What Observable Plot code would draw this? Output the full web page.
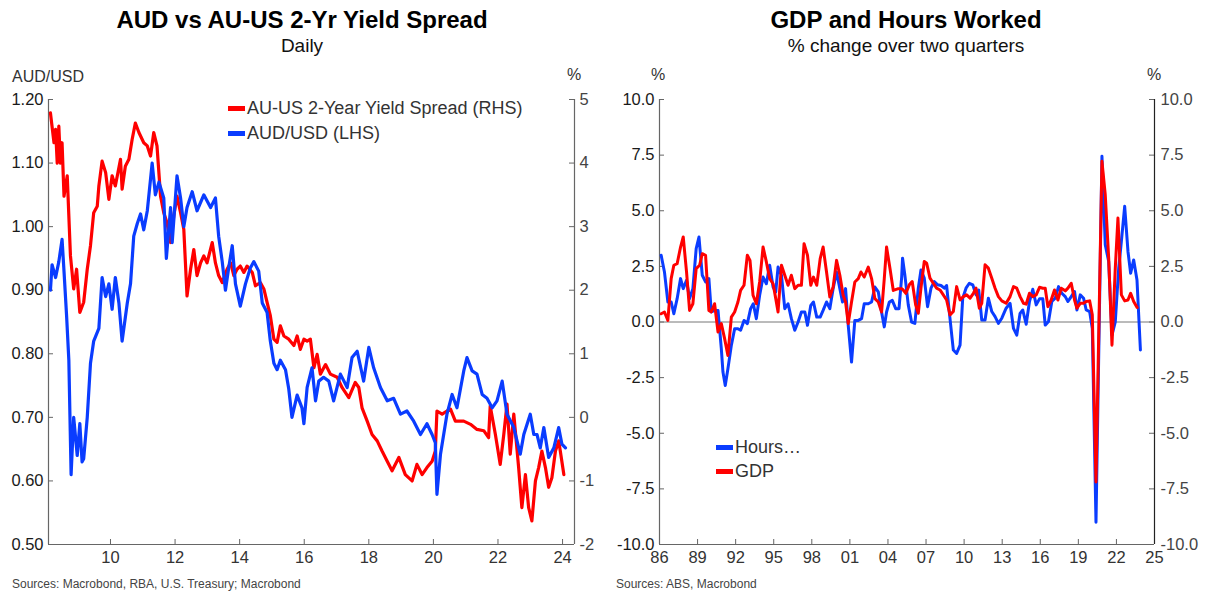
<!DOCTYPE html>
<html><head><meta charset="utf-8">
<script src="https://cdn.jsdelivr.net/npm/d3@7"></script>
<script src="https://cdn.jsdelivr.net/npm/@observablehq/plot@0.6"></script>
<style>
body{margin:0;width:1208px;height:591px;position:relative;background:#fff;font-family:"Liberation Sans",Arial,sans-serif;overflow:hidden}
.t{position:absolute;white-space:nowrap}
.title{font-weight:bold;font-size:24px;line-height:28px;top:6px;width:604px;text-align:center;color:#000}
.sub{font-size:19px;line-height:22px;top:35px;width:604px;text-align:center;color:#111}
.unit{font-size:16px;line-height:18px;color:#333}
.leg{font-size:18px;line-height:22px;color:#333}
.sw{position:absolute;width:17px;height:5px}
.src{font-size:12px;line-height:14px;top:577px;color:#444}
</style></head><body>
<div class="t title" style="left:0">AUD vs AU-US 2-Yr Yield Spread</div>
<div class="t sub" style="left:0">Daily</div>
<div class="t title" style="left:604px">GDP and Hours Worked</div>
<div class="t sub" style="left:604px">% change over two quarters</div>
<div class="t unit" style="left:12px;top:68px">AUD/USD</div>
<div class="t unit" style="left:567px;top:66px">%</div>
<div class="t unit" style="left:651px;top:66px">%</div>
<div class="t unit" style="left:1147px;top:66px">%</div>
<div id="left" style="position:absolute;left:0;top:60px"></div>
<div id="right" style="position:absolute;left:604px;top:60px"></div>
<div class="sw" style="left:228px;top:105.5px;background:#ff0000"></div>
<div class="t leg" style="left:247px;top:97px">AU-US 2-Year Yield Spread (RHS)</div>
<div class="sw" style="left:228px;top:130.5px;background:#0a3cff"></div>
<div class="t leg" style="left:247px;top:122px">AUD/USD (LHS)</div>
<div class="sw" style="left:716px;top:444.5px;background:#0a3cff"></div>
<div class="t leg" style="left:735px;top:436px">Hours…</div>
<div class="sw" style="left:716px;top:468.5px;background:#ff0000"></div>
<div class="t leg" style="left:735px;top:460px">GDP</div>
<div class="t src" style="left:12px">Sources: Macrobond, RBA, U.S. Treasury; Macrobond</div>
<div class="t src" style="left:616px">Sources: ABS, Macrobond</div>
<script>
// ---- Left chart data (year fraction, value) ----
const audUsd = [
[2008.14,0.90],[2008.19,0.94],[2008.30,0.92],[2008.40,0.945],[2008.50,0.98],[2008.56,0.93],[2008.64,0.86],[2008.71,0.79],[2008.78,0.61],[2008.86,0.70],[2008.97,0.64],[2009.05,0.69],[2009.12,0.63],[2009.17,0.635],[2009.28,0.70],[2009.38,0.785],[2009.48,0.82],[2009.64,0.84],[2009.74,0.92],[2009.85,0.89],[2009.95,0.91],[2010.05,0.87],[2010.15,0.92],[2010.26,0.88],[2010.36,0.82],[2010.52,0.88],[2010.62,0.91],[2010.72,0.985],[2010.83,1.005],[2010.93,1.02],[2011.03,0.995],[2011.14,1.025],[2011.29,1.10],[2011.39,1.05],[2011.50,1.07],[2011.65,1.045],[2011.73,0.95],[2011.86,1.03],[2011.91,0.975],[2012.06,1.08],[2012.17,1.045],[2012.27,1.00],[2012.37,1.03],[2012.53,1.055],[2012.68,1.025],[2012.89,1.05],[2013.10,1.03],[2013.25,1.045],[2013.35,0.985],[2013.46,0.945],[2013.56,0.90],[2013.66,0.935],[2013.77,0.97],[2013.87,0.91],[2014.02,0.875],[2014.18,0.91],[2014.33,0.935],[2014.44,0.945],[2014.59,0.93],[2014.70,0.88],[2014.85,0.865],[2014.95,0.82],[2015.06,0.785],[2015.16,0.775],[2015.26,0.79],[2015.42,0.775],[2015.52,0.745],[2015.62,0.70],[2015.78,0.735],[2015.93,0.715],[2015.99,0.69],[2016.09,0.747],[2016.24,0.778],[2016.35,0.726],[2016.45,0.757],[2016.60,0.763],[2016.76,0.757],[2016.91,0.726],[2017.12,0.768],[2017.33,0.747],[2017.48,0.794],[2017.64,0.804],[2017.84,0.757],[2018.00,0.81],[2018.15,0.778],[2018.36,0.747],[2018.57,0.726],[2018.77,0.73],[2018.98,0.705],[2019.18,0.71],[2019.39,0.694],[2019.60,0.673],[2019.80,0.69],[2019.96,0.673],[2020.06,0.66],[2020.11,0.579],[2020.22,0.642],[2020.42,0.705],[2020.58,0.736],[2020.73,0.715],[2020.94,0.773],[2021.04,0.794],[2021.20,0.773],[2021.35,0.768],[2021.51,0.736],[2021.66,0.73],[2021.82,0.715],[2021.97,0.726],[2022.13,0.757],[2022.28,0.705],[2022.49,0.684],[2022.69,0.642],[2022.80,0.673],[2023.00,0.705],[2023.11,0.673],[2023.21,0.673],[2023.31,0.652],[2023.42,0.684],[2023.57,0.637],[2023.73,0.652],[2023.88,0.684],[2023.98,0.658],[2024.09,0.652]
];
const yieldSpread = [
[2008.14,4.79],[2008.25,4.32],[2008.30,4.53],[2008.35,4.0],[2008.40,4.58],[2008.45,4.0],[2008.50,4.32],[2008.56,3.48],[2008.66,3.8],[2008.76,2.54],[2008.86,2.02],[2008.95,2.33],[2009.05,1.65],[2009.17,1.81],[2009.28,2.33],[2009.38,2.70],[2009.48,3.22],[2009.59,3.32],[2009.64,3.64],[2009.74,4.03],[2009.85,3.85],[2009.95,3.43],[2010.05,3.80],[2010.15,3.64],[2010.31,4.06],[2010.36,3.59],[2010.46,3.95],[2010.57,4.06],[2010.67,4.37],[2010.77,4.63],[2010.88,4.48],[2011.03,4.32],[2011.14,4.27],[2011.24,4.11],[2011.34,4.48],[2011.44,4.27],[2011.55,3.48],[2011.65,3.22],[2011.75,3.06],[2011.86,2.75],[2011.96,3.17],[2012.06,3.48],[2012.17,3.22],[2012.27,2.96],[2012.37,1.91],[2012.48,2.33],[2012.58,2.64],[2012.68,2.23],[2012.79,2.43],[2012.89,2.54],[2012.99,2.43],[2013.15,2.75],[2013.25,2.43],[2013.35,2.23],[2013.46,2.12],[2013.61,2.33],[2013.72,2.43],[2013.82,2.23],[2013.92,2.33],[2014.02,2.38],[2014.13,2.28],[2014.23,2.38],[2014.39,2.28],[2014.49,2.07],[2014.64,2.12],[2014.75,2.02],[2014.85,1.81],[2014.95,1.60],[2015.06,1.23],[2015.16,1.18],[2015.26,1.44],[2015.37,1.28],[2015.52,1.23],[2015.68,1.13],[2015.78,1.28],[2015.88,1.07],[2015.99,1.23],[2016.09,1.20],[2016.19,1.23],[2016.30,0.78],[2016.40,0.99],[2016.50,0.68],[2016.66,0.83],[2016.81,0.68],[2017.02,0.63],[2017.17,0.47],[2017.38,0.31],[2017.58,0.55],[2017.69,0.47],[2017.79,0.15],[2017.95,-0.06],[2018.10,-0.27],[2018.26,-0.37],[2018.41,-0.53],[2018.57,-0.69],[2018.72,-0.84],[2018.93,-0.63],[2019.13,-0.90],[2019.34,-1.00],[2019.49,-0.74],[2019.65,-0.90],[2019.80,-0.79],[2019.96,-0.69],[2020.06,-0.53],[2020.11,0.10],[2020.27,0.05],[2020.42,0.10],[2020.53,0.13],[2020.68,-0.06],[2020.94,-0.06],[2021.15,-0.11],[2021.35,-0.19],[2021.56,-0.21],[2021.71,-0.32],[2021.76,0.18],[2021.92,-0.27],[2022.07,-0.74],[2022.18,-0.27],[2022.28,0.21],[2022.38,-0.58],[2022.49,0.05],[2022.64,-0.79],[2022.74,-1.42],[2022.85,-0.90],[2022.95,-1.42],[2023.05,-1.63],[2023.16,-1.00],[2023.26,-0.79],[2023.36,-0.53],[2023.47,-0.79],[2023.57,-1.10],[2023.67,-0.95],[2023.78,-0.53],[2023.88,-0.37],[2023.93,-0.53],[2024.04,-0.90]
];
const leftYTicks = [0.5,0.6,0.7,0.8,0.9,1.0,1.1,1.2];
const leftXTicks = [2010,2012,2014,2016,2018,2020,2022,2024];

// ---- Right chart data (year fraction, % change over two quarters) ----
const hoursWorked = [
[1986.13,3.0],[1986.39,2.25],[1986.66,0.9],[1986.92,0.9],[1987.13,0.37],[1987.39,1.05],[1987.66,1.95],[1987.87,1.5],[1988.13,1.87],[1988.37,1.05],[1988.63,1.5],[1988.89,3.3],[1989.11,3.82],[1989.37,2.1],[1989.63,1.8],[1989.89,1.95],[1990.08,0.45],[1990.34,0.52],[1990.61,0.52],[1990.87,-1.2],[1991.00,-2.25],[1991.18,-2.85],[1991.39,-2.1],[1991.66,-1.05],[1991.92,-0.3],[1992.18,-0.3],[1992.39,-0.37],[1992.66,0.07],[1992.92,-0.07],[1993.18,0.6],[1993.39,0.82],[1993.63,0.15],[1993.89,1.2],[1994.16,2.02],[1994.42,1.72],[1994.68,2.55],[1994.95,1.57],[1995.16,1.35],[1995.34,2.47],[1995.61,2.1],[1995.87,0.6],[1996.13,0.82],[1996.39,0.15],[1996.66,-0.37],[1996.92,0],[1997.18,0.45],[1997.45,0.45],[1997.66,-0.15],[1997.92,0.75],[1998.13,0.9],[1998.39,0.22],[1998.66,0.22],[1998.89,0.52],[1999.16,0.9],[1999.42,0.6],[1999.68,1.5],[1999.95,2.25],[2000.21,1.5],[2000.42,0.9],[2000.66,1.5],[2000.87,-0.15],[2001.13,-1.8],[2001.39,0.07],[2001.66,0.07],[2001.92,0.15],[2002.13,0.82],[2002.45,0.82],[2002.71,0.9],[2002.97,1.57],[2003.24,1.35],[2003.45,0.6],[2003.71,-0.22],[2003.89,0.45],[2004.11,0.9],[2004.34,0.97],[2004.61,0.6],[2004.87,0.6],[2005.08,2.02],[2005.15,2.87],[2005.33,2.12],[2005.60,0.77],[2005.86,0.0],[2006.12,-0.06],[2006.39,1.52],[2006.60,2.34],[2006.86,1.97],[2007.12,0.69],[2007.39,1.52],[2007.65,1.82],[2007.91,1.67],[2008.18,1.64],[2008.44,1.52],[2008.62,1.64],[2008.83,0.47],[2009.15,-1.26],[2009.41,-1.41],[2009.68,-1.04],[2009.89,1.07],[2010.15,1.52],[2010.41,1.74],[2010.68,1.67],[2010.94,1.22],[2011.15,1.44],[2011.39,0.09],[2011.65,0.09],[2011.91,1.07],[2012.18,0.47],[2012.44,0.24],[2012.70,-0.06],[2012.97,0.17],[2013.31,0.62],[2013.62,0.84],[2013.89,-0.29],[2014.15,-0.59],[2014.41,0.39],[2014.62,0.54],[2014.89,-0.1],[2015.15,0.92],[2015.41,1.47],[2015.68,0.77],[2015.94,1.04],[2016.20,1.04],[2016.39,-0.14],[2016.65,0.02],[2016.91,0.92],[2017.18,1.07],[2017.44,1.59],[2017.70,1.29],[2017.97,1.14],[2018.18,0.92],[2018.44,1.14],[2018.70,1.37],[2018.89,0.54],[2019.15,1.22],[2019.41,1.07],[2019.62,0.54],[2019.89,0.47],[2020.10,-0.29],[2020.39,-9.0],[2020.86,7.45],[2021.12,3.47],[2021.39,2.72],[2021.65,-0.59],[2021.91,0.0],[2022.18,2.42],[2022.39,3.62],[2022.65,5.2],[2022.91,3.17],[2023.12,2.19],[2023.36,2.79],[2023.62,1.89],[2023.89,-1.26]
];
const gdp = [
[1986.13,0.37],[1986.39,0.45],[1986.66,0.07],[1986.92,1.95],[1987.13,2.55],[1987.39,2.62],[1987.66,3.37],[1987.87,3.82],[1988.13,2.25],[1988.37,0.52],[1988.63,0.82],[1988.89,2.4],[1989.16,2.55],[1989.37,3.07],[1989.63,3.0],[1989.89,0.52],[1990.08,0.45],[1990.34,0.82],[1990.61,-0.45],[1990.87,-0.07],[1991.13,-0.75],[1991.39,-1.5],[1991.66,0.22],[1991.92,0.45],[1992.18,0.9],[1992.39,1.42],[1992.66,1.65],[1992.92,3.0],[1993.13,2.77],[1993.37,1.2],[1993.63,0.82],[1993.89,1.8],[1994.16,3.37],[1994.42,2.7],[1994.68,1.95],[1994.95,1.72],[1995.16,1.05],[1995.34,0.45],[1995.61,2.55],[1995.87,2.1],[1996.13,1.65],[1996.39,2.1],[1996.66,1.5],[1996.92,1.65],[1997.18,1.65],[1997.39,3.52],[1997.66,3.0],[1997.92,1.65],[1998.13,2.02],[1998.39,1.65],[1998.66,2.85],[1998.89,3.37],[1999.16,2.25],[1999.42,1.12],[1999.68,1.57],[1999.95,2.77],[2000.21,2.1],[2000.47,1.2],[2000.66,0.9],[2000.87,-0.07],[2001.13,0.9],[2001.39,1.8],[2001.66,1.95],[2001.87,2.25],[2002.13,2.02],[2002.45,2.47],[2002.71,1.95],[2002.97,1.05],[2003.24,0.9],[2003.50,0.45],[2003.71,1.95],[2003.89,3.37],[2004.16,2.4],[2004.42,1.42],[2004.82,1.5],[2005.08,1.5],[2005.20,1.44],[2005.41,1.29],[2005.68,1.67],[2005.91,1.82],[2006.18,0.77],[2006.39,0.39],[2006.60,1.52],[2006.86,2.72],[2007.05,2.64],[2007.31,1.97],[2007.57,1.74],[2007.83,1.52],[2008.10,1.44],[2008.36,1.22],[2008.62,0.99],[2008.89,0.32],[2009.15,0.47],[2009.41,1.59],[2009.68,0.99],[2009.94,1.14],[2010.20,1.22],[2010.47,1.07],[2010.73,1.29],[2010.94,1.52],[2011.20,0.62],[2011.39,0.84],[2011.65,2.57],[2011.91,2.42],[2012.18,1.97],[2012.44,1.52],[2012.70,1.14],[2012.97,0.95],[2013.31,0.84],[2013.62,1.14],[2013.89,1.59],[2014.15,1.52],[2014.41,1.14],[2014.68,0.84],[2014.89,0.80],[2015.15,1.29],[2015.41,1.14],[2015.68,1.22],[2015.94,1.56],[2016.20,1.52],[2016.39,1.52],[2016.60,0.69],[2016.86,0.99],[2017.12,1.44],[2017.39,0.99],[2017.65,1.52],[2017.97,1.40],[2018.18,1.52],[2018.44,1.74],[2018.70,0.99],[2018.89,0.62],[2019.15,0.84],[2019.41,0.84],[2019.62,0.92],[2019.89,0.95],[2020.10,0.32],[2020.39,-7.19],[2020.86,7.22],[2021.12,5.72],[2021.39,2.87],[2021.65,-1.04],[2021.91,2.42],[2022.12,4.67],[2022.39,1.22],[2022.65,0.95],[2022.91,0.99],[2023.12,1.29],[2023.36,0.92],[2023.63,0.65]
];
const rightYTicks = [-10,-7.5,-5,-2.5,0,2.5,5,7.5,10];
const rightXTicks = [1986,1989,1992,1995,1998,2001,2004,2007,2010,2013,2016,2019,2022,2025];

const RED = "#ff0000", BLUE = "#0a3cff", AX = "#666";
const FONT = '"Liberation Sans", Arial, sans-serif';
const H = 520, MT = 39, MB = 36;
const innerH = H - MT - MB;

// Left chart
{
  const ML = 48, MR = 30, innerW = 604 - ML - MR;
  const xd = [2008.08, 2024.37];
  const chart = Plot.plot({
    width: 604, height: H, marginLeft: ML, marginRight: MR, marginTop: MT, marginBottom: MB,
    style: {fontFamily: FONT, fontSize: "16.5px", color: "#222", background: "transparent", overflow: "visible"},
    x: {domain: xd},
    y: {domain: [0.5, 1.2]},
    marks: [
      Plot.axisY({ticks: leftYTicks, anchor: "left", tickSize: 0, tickPadding: 5, tickFormat: d => d.toFixed(2), label: null, fill: "#1a1a1a"}),
      Plot.axisY({ticks: leftYTicks, anchor: "right", tickSize: 0, tickPadding: 5, tickFormat: d => String(Math.round((d - 0.7) * 10)), label: null, fill: "#444"}),
      Plot.axisX({ticks: leftXTicks, anchor: "bottom", tickSize: 0, tickPadding: 7, tickFormat: d => String(d).slice(2), label: null, fill: "#333"}),
      Plot.tickY(leftYTicks, {y: d => d, insetRight: innerW - 5, stroke: AX}),
      Plot.tickY(leftYTicks, {y: d => d, insetLeft: innerW - 5, stroke: AX}),
      Plot.tickX(leftXTicks, {x: d => d, insetTop: innerH - 5, stroke: AX}),
      Plot.ruleX(xd, {stroke: AX, strokeWidth: 1.2}),
      Plot.ruleY([0.5], {stroke: AX, strokeWidth: 1.2}),
      Plot.line(yieldSpread, {x: d => d[0], y: d => 0.7 + d[1] / 10, stroke: RED, strokeWidth: 3.2, strokeLinejoin: "round"}),
      Plot.line(audUsd, {x: d => d[0], y: d => d[1], stroke: BLUE, strokeWidth: 3.2, strokeLinejoin: "round"})
    ]
  });
  document.getElementById("left").append(chart);
}

// Right chart
{
  const ML = 55, MR = 54, innerW = 604 - ML - MR;
  const xd = [1986, 2025];
  const chart = Plot.plot({
    width: 604, height: H, marginLeft: ML, marginRight: MR, marginTop: MT, marginBottom: MB,
    style: {fontFamily: FONT, fontSize: "16.5px", color: "#222", background: "transparent", overflow: "visible"},
    x: {domain: xd},
    y: {domain: [-10, 10]},
    marks: [
      Plot.axisY({ticks: rightYTicks, anchor: "left", tickSize: 0, tickPadding: 5, tickFormat: d => d.toFixed(1), label: null, fill: "#1a1a1a"}),
      Plot.axisY({ticks: rightYTicks, anchor: "right", tickSize: 0, tickPadding: 6, tickFormat: d => d.toFixed(1), label: null, fill: "#444"}),
      Plot.axisX({ticks: rightXTicks, anchor: "bottom", tickSize: 0, tickPadding: 7, tickFormat: d => String(d).slice(2), label: null, fill: "#333"}),
      Plot.tickY(rightYTicks, {y: d => d, insetRight: innerW - 5, stroke: AX}),
      Plot.tickY(rightYTicks, {y: d => d, insetLeft: innerW - 5, stroke: AX}),
      Plot.tickX(rightXTicks, {x: d => d, insetTop: innerH - 5, stroke: AX}),
      Plot.ruleY([0], {stroke: "#777", strokeWidth: 1}),
      Plot.ruleX([xd[0]], {stroke: AX, strokeWidth: 1.2}),
      Plot.ruleX([xd[1]], {stroke: "#222", strokeWidth: 1.2}),
      Plot.ruleY([-10], {stroke: AX, strokeWidth: 1.2}),
      Plot.line(hoursWorked, {x: d => d[0], y: d => d[1], stroke: BLUE, strokeWidth: 3, strokeLinejoin: "round"}),
      Plot.line(gdp, {x: d => d[0], y: d => d[1], stroke: RED, strokeWidth: 3, strokeLinejoin: "round"})
    ]
  });
  document.getElementById("right").append(chart);
}
</script>
</body></html>
